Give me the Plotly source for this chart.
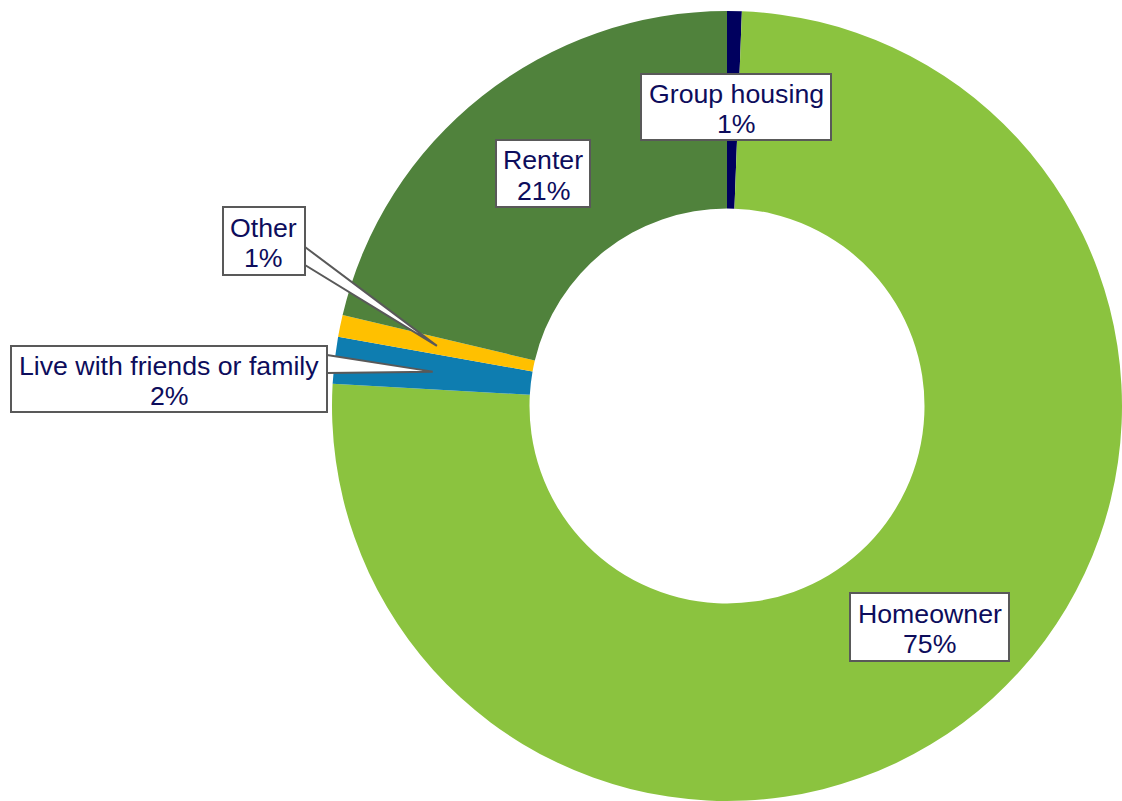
import math
import plotly.graph_objects as go

# housing situation shares, clockwise from 12 o'clock
categories = ['Group housing', 'Homeowner', 'Live with friends or family', 'Other', 'Renter']
shares = [0.6, 75.3, 1.9, 0.9, 21.3]
colors = ['#00005E', '#8BC33F', '#0E7DB0', '#FFC000', '#50823C']

W, H = 1122, 801
DOM_X = [0.2959, 1.0]
DOM_Y = [0.0, 0.9863]
HOLE = 0.5

TEXT_COLOR = '#0D0D5C'
BORDER = '#595959'
FONT = 'Liberation Sans, Arial, sans-serif'
LINE_GAP = 30  # px between the two label lines

# label boxes: (center x px, center y px, width px, height px)
boxes = {
    'Group housing': (736, 107, 192, 68),
    'Homeowner': (929.5, 627, 161, 70),
    'Renter': (543, 173.5, 96, 69),
    'Other': (263.5, 241, 84, 70),
    'Live with friends or family': (169, 379, 318, 68),
}
# callout wedges: base on box edge (x px, y1 px, y2 px)
callouts = {
    'Other': (305, 247, 265),
    'Live with friends or family': (327, 355, 373),
}

fig = go.Figure(go.Pie(
    labels=categories,
    values=shares,
    sort=False,
    direction='clockwise',
    rotation=0,
    hole=HOLE,
    marker=dict(colors=colors, line=dict(width=0)),
    textinfo='none',
    hoverinfo='label+percent',
    domain=dict(x=DOM_X, y=DOM_Y),
    showlegend=False,
))

# pie geometry in pixels
cx = (DOM_X[0] + DOM_X[1]) / 2 * W
cy = (1 - (DOM_Y[0] + DOM_Y[1]) / 2) * H
R = (DOM_X[1] - DOM_X[0]) * W / 2
r_mid = R * (1 + HOLE) / 2


def px_to_paper(x, y):
    return x / W, 1 - y / H


total = sum(shares)
cum = 0
mid_angle = {}
for name, v in zip(categories, shares):
    mid_angle[name] = (cum + v / 2) / total * 2 * math.pi
    cum += v

for name, (bx, y1, y2) in callouts.items():
    a = mid_angle[name]
    tx = cx + r_mid * math.sin(a)
    ty = cy - r_mid * math.cos(a)
    pts = [px_to_paper(bx, y1), px_to_paper(tx, ty), px_to_paper(bx, y2)]
    path = 'M {} {} L {} {} L {} {} Z'.format(*[c for p in pts for c in p])
    fig.add_shape(type='path', xref='paper', yref='paper', path=path,
                  fillcolor='white', line=dict(color=BORDER, width=2))

for name, v in zip(categories, shares):
    bx, by, bw, bh = boxes[name]
    x, y = px_to_paper(bx, by)
    # the white bordered box
    fig.add_annotation(
        x=x, y=y, xref='paper', yref='paper',
        xanchor='center', yanchor='middle',
        text=' ', showarrow=False,
        bgcolor='white', bordercolor=BORDER,
        borderwidth=2, borderpad=0,
        width=bw - 4, height=bh - 4,
    )
    # the two text lines, a bit tighter than plotly's own line spacing
    for line, dy in [(name, -LINE_GAP / 2 + 2), (f'{round(v)}%', LINE_GAP / 2 + 2)]:
        lx, ly = px_to_paper(bx, by + dy)
        fig.add_annotation(
            x=lx, y=ly, xref='paper', yref='paper',
            xanchor='center', yanchor='middle',
            text=line, showarrow=False,
            font=dict(family=FONT, size=26.7, color=TEXT_COLOR),
        )

fig.update_layout(
    width=W, height=H,
    margin=dict(l=0, r=0, t=0, b=0),
    paper_bgcolor='white',
    plot_bgcolor='white',
)

# drop the page's default body margin so the figure sits at the window origin
fig.write_html('out.html', config={'displayModeBar': False},
               post_script="document.body.style.margin='0';")
